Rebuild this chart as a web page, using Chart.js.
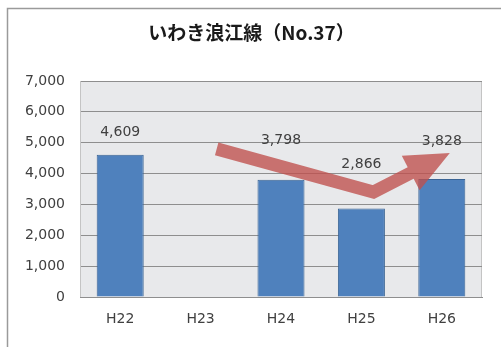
<!DOCTYPE html>
<html>
<head>
<meta charset="utf-8">
<script src="https://cdn.jsdelivr.net/npm/chart.js@4/dist/chart.umd.min.js"></script>
<style>
    html, body { margin: 0; padding: 0; background: #fff; }
    #wrap { width: 501px; height: 347px; position: relative; }
</style>
</head>
<body>
<div id="wrap"><canvas id="routeChart"></canvas></div>
<script>
        // Ridership per fiscal year
        const years = ['H22', 'H23', 'H24', 'H25', 'H26'];
        const riders = [4609, null, 3798, 2866, 3828];
        const yTicks = [0, 1000, 2000, 3000, 4000, 5000, 6000, 7000];
        const chartTitle = 'いわき浪江線（No.37）';

        // Trend arrow anchors (category index, value)
        const trendArrow = [[1.2, 4800], [3.15, 3400], [4.1, 4670]];

        // How far above each bar its value label sits (px)
        const labelLift = [22, 0, 39, 44, 38];

        const textColor = '#404040';
        const numFont = { family: 'DejaVu Sans', size: 14 };

        // Outer frame, title and plot background
        const framePlugin = {
            id: 'frame',
            beforeDraw(chart) {
                const ctx = chart.ctx;
                const a = chart.chartArea;
                ctx.save();
                ctx.fillStyle = '#fff';
                ctx.fillRect(0, 0, chart.width, chart.height);
                ctx.strokeStyle = '#9a9a9a';
                ctx.lineWidth = 1.5;
                ctx.beginPath();
                ctx.moveTo(7.5, chart.height);
                ctx.lineTo(7.5, 8.5);
                ctx.lineTo(chart.width, 8.5);
                ctx.stroke();

                ctx.font = 'bold 19px "Noto Sans CJK JP"';
                ctx.fillStyle = '#1a1a1a';
                ctx.textAlign = 'center';
                ctx.textBaseline = 'middle';
                ctx.fillText(chartTitle, chart.width / 2 + 1, 33);

                ctx.fillStyle = '#e8e9eb';
                ctx.fillRect(a.left, a.top, a.right - a.left, a.bottom - a.top);
                ctx.strokeStyle = '#c4c4c4';
                ctx.lineWidth = 1;
                ctx.strokeRect(a.left + 0.5, a.top + 0.5, a.right - a.left - 1, a.bottom - a.top);
                ctx.restore();
            }
        };

        // Red trend arrow, then value labels on top
        const overlayPlugin = {
            id: 'overlay',
            afterDatasetsDraw(chart) {
                const ctx = chart.ctx;
                const xs = chart.scales.x;
                const ys = chart.scales.y;
                const pts = trendArrow.map(p => [xs.getPixelForValue(p[0]), ys.getPixelForValue(p[1])]);
                const tip = pts[pts.length - 1];
                const prev = pts[pts.length - 2];
                const dx = tip[0] - prev[0], dy = tip[1] - prev[1];
                const len = Math.hypot(dx, dy);
                const ux = dx / len, uy = dy / len;
                const headLen = 44, headHalf = 19.5;
                const base = [tip[0] - ux * headLen, tip[1] - uy * headLen];

                // shaft and head go on their own layer so the overlap stays one tone
                const off = document.createElement('canvas');
                off.width = chart.width;
                off.height = chart.height;
                const oc = off.getContext('2d');
                oc.strokeStyle = '#c0504d';
                oc.fillStyle = '#c0504d';
                oc.lineWidth = 13;
                oc.lineJoin = 'miter';
                oc.lineCap = 'butt';
                oc.beginPath();
                oc.moveTo(pts[0][0], pts[0][1]);
                for (let i = 1; i < pts.length - 1; i++) oc.lineTo(pts[i][0], pts[i][1]);
                oc.lineTo(base[0] + ux, base[1] + uy);
                oc.stroke();
                oc.beginPath();
                oc.moveTo(tip[0], tip[1]);
                oc.lineTo(base[0] - uy * headHalf, base[1] + ux * headHalf);
                oc.lineTo(base[0] + uy * headHalf, base[1] - ux * headHalf);
                oc.closePath();
                oc.fill();

                ctx.save();
                ctx.globalAlpha = 0.78;
                ctx.drawImage(off, 0, 0);
                ctx.restore();

                ctx.save();
                ctx.font = numFont.size + 'px ' + numFont.family;
                ctx.fillStyle = textColor;
                ctx.textAlign = 'center';
                ctx.textBaseline = 'middle';
                const meta = chart.getDatasetMeta(0);
                meta.data.forEach((bar, i) => {
                    if (riders[i] === null) return;
                    ctx.fillText(riders[i].toLocaleString('en-US'), bar.x, bar.y - labelLift[i]);
                });
                ctx.restore();
            }
        };

        new Chart(document.getElementById('routeChart'), {
            type: 'bar',
            data: {
                labels: years,
                datasets: [{
                    data: riders,
                    backgroundColor: '#4f81bd',
                    borderColor: '#3a6494',
                    borderWidth: 1,
                    barPercentage: 0.585,
                    categoryPercentage: 1
                }]
            },
            options: {
                responsive: true,
                maintainAspectRatio: false,
                animation: false,
                devicePixelRatio: 1,
                layout: {
                    padding: { left: 0, right: 19, top: 81, bottom: 0 }
                },
                plugins: {
                    legend: { display: false },
                    tooltip: { enabled: false },
                    title: { display: false }
                },
                scales: {
                    y: {
                        min: 0,
                        max: 7000,
                        afterBuildTicks(scale) {
                            scale.ticks = yTicks.map(v => ({ value: v }));
                        },
                        afterFit(scale) {
                            scale.width = 80;
                        },
                        ticks: {
                            color: textColor,
                            font: numFont,
                            padding: 15,
                            callback: v => v.toLocaleString('en-US')
                        },
                        grid: {
                            color: '#8e8e8e',
                            drawTicks: false
                        },
                        border: { color: '#c4c4c4' }
                    },
                    x: {
                        afterFit(scale) {
                            scale.height = 50;
                        },
                        ticks: {
                            color: textColor,
                            font: numFont,
                            padding: 14
                        },
                        grid: { display: false, drawTicks: false },
                        border: { color: '#8e8e8e' }
                    }
                }
            },
            plugins: [framePlugin, overlayPlugin]
        });
</script>
</body>
</html>
